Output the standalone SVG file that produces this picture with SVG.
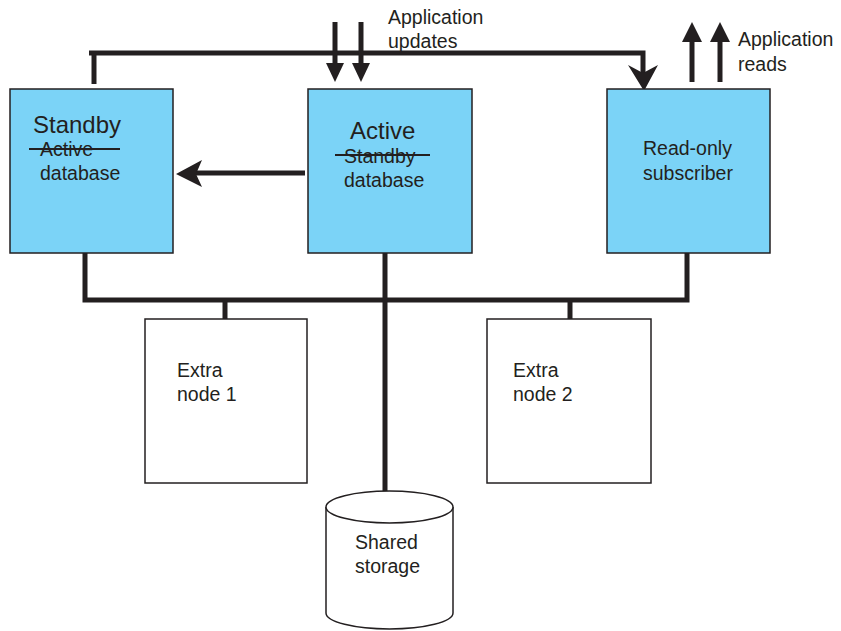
<svg xmlns="http://www.w3.org/2000/svg" width="841" height="631" viewBox="0 0 841 631">
<style>
.db{fill:#7bd3f7;stroke:#231f20;stroke-width:1.5}
.ex{fill:#fff;stroke:#231f20;stroke-width:1.5}
.t{font-family:"Liberation Sans",Arial,sans-serif;font-size:19.5px;fill:#231f20}
.h{font-family:"Liberation Sans",Arial,sans-serif;font-size:24px;fill:#231f20}
.w{fill:none;stroke:#231f20;stroke-width:5}
.s{stroke:#231f20;stroke-width:2}
.ah{fill:#231f20}
</style>
<rect width="841" height="631" fill="#fff"/>
<g id="connectors">
<polyline class="w" points="89,53 643,53 643,74"/>
<line class="w" x1="94" y1="53" x2="94" y2="84"/>
<path class="ah" d="M644,91 L628,65 L643,73 L658,65 Z"/>
<line class="w" x1="335" y1="22" x2="335" y2="65"/>
<path class="ah" d="M335,82 L326,63 L344,63 Z"/>
<line class="w" x1="361" y1="22" x2="361" y2="65"/>
<path class="ah" d="M361,82 L352,63 L370,63 Z"/>
<line class="w" x1="692" y1="82" x2="692" y2="40"/>
<path class="ah" d="M692,22 L682,42 L702,42 Z"/>
<line class="w" x1="720" y1="82" x2="720" y2="40"/>
<path class="ah" d="M720,22 L710,42 L730,42 Z"/>
<line class="w" x1="305" y1="173" x2="196" y2="173"/>
<path class="ah" d="M176,174 L202,160 L196,174 L202,187 Z"/>
<polyline class="w" points="85,253 85,300 687,300 687,253"/>
<line class="w" x1="385" y1="253" x2="385" y2="492"/>
<line class="w" x1="225" y1="300" x2="225" y2="320"/>
<line class="w" x1="570" y1="300" x2="570" y2="320"/>
</g>
<g id="standby">
<rect class="db" x="10" y="89" width="163" height="164"/>
<text class="h" x="33" y="133">Standby</text>
<text class="t" x="40" y="156">Active</text>
<line class="s" x1="29" y1="149" x2="120" y2="149"/>
<text class="t" x="40" y="180">database</text>
</g>
<g id="active">
<rect class="db" x="308" y="89" width="164" height="164"/>
<text class="h" x="350" y="139">Active</text>
<text class="t" x="344" y="163">Standby</text>
<line class="s" x1="335" y1="155" x2="430" y2="155"/>
<text class="t" x="344" y="187">database</text>
</g>
<g id="readonly">
<rect class="db" x="607" y="89" width="163" height="164"/>
<text class="t" x="643" y="155">Read-only</text>
<text class="t" x="643" y="180">subscriber</text>
</g>
<g id="app-updates">
<text class="t" x="388" y="24">Application</text>
<text class="t" x="388" y="48">updates</text>
</g>
<g id="app-reads">
<text class="t" x="738" y="46">Application</text>
<text class="t" x="738" y="71">reads</text>
</g>
<g id="extra1">
<rect class="ex" x="145" y="319" width="162" height="164"/>
<text class="t" x="177" y="377">Extra</text>
<text class="t" x="177" y="401">node 1</text>
</g>
<g id="extra2">
<rect class="ex" x="487" y="319" width="164" height="164"/>
<text class="t" x="513" y="377">Extra</text>
<text class="t" x="513" y="401">node 2</text>
</g>
<g id="storage">
<path class="ex" d="M326,507 L326,613 A63.5,16 0 0 0 453,613 L453,507"/>
<ellipse class="ex" cx="389.5" cy="507" rx="63.5" ry="16"/>
<text class="t" x="355" y="549">Shared</text>
<text class="t" x="355" y="573">storage</text>
</g>
</svg>
